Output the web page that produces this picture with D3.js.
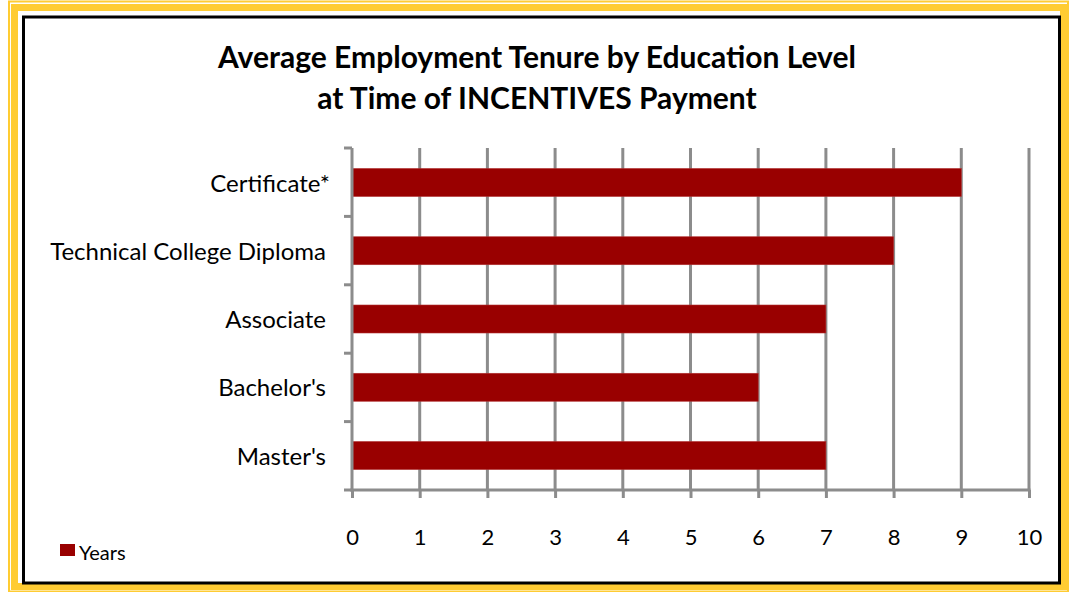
<!DOCTYPE html>
<html>
<head>
<meta charset="utf-8">
<script src="https://cdn.jsdelivr.net/npm/d3@7"></script>
<style>
  html, body { margin: 0; padding: 0; background: #fff; }
  svg { display: block; }
  text { font-family: Lato, "Open Sans", sans-serif; fill: #000; }
</style>
</head>
<body>
<svg id="chart" width="1069" height="592"></svg>
<script>
// Education levels, top to bottom
const categories = ["Certificate*", "Technical College Diploma", "Associate", "Bachelor's", "Master's"];
// Average tenure in years
const years = [9, 8, 7, 6, 7];
const xTicks = [0, 1, 2, 3, 4, 5, 6, 7, 8, 9, 10];
const titleLines = ["Average Employment Tenure by Education Level", "at Time of INCENTIVES Payment"];
const legendLabel = "Years";

const W = 1069, H = 592;
const barColor = "#990000";
const axisColor = "#8c8c8c";

const svg = d3.select("#chart");

// Decorative double yellow frame
svg.append("rect").attr("x", 9).attr("y", 1.5).attr("width", W - 10).attr("height", H - 2)
  .attr("fill", "none").attr("stroke", "#ffcc33").attr("stroke-width", 2);
svg.append("rect").attr("x", 14.5).attr("y", 7.5).attr("width", W - 20).attr("height", H - 13)
  .attr("fill", "none").attr("stroke", "#ffcc33").attr("stroke-width", 7);

// Black chart-area border
svg.append("rect").attr("x", 23.5).attr("y", 17).attr("width", 1036).attr("height", 566)
  .attr("fill", "#fff").attr("stroke", "#000").attr("stroke-width", 3);

// Plot area
const plotL = 352, plotR = 1029, plotT = 148, plotB = 490;

const x = d3.scaleLinear().domain([0, 10]).range([plotL, plotR]);
const y = d3.scaleBand().domain(categories).range([plotT, plotB]).paddingInner(0.59).paddingOuter(0.3);

// Vertical gridlines
svg.append("g").selectAll("line").data(xTicks.filter(d => d > 0)).join("line")
  .attr("x1", d => x(d)).attr("x2", d => x(d))
  .attr("y1", plotT).attr("y2", plotB)
  .attr("stroke", axisColor).attr("stroke-width", 3);

// Bars
svg.append("g").selectAll("rect").data(categories).join("rect")
  .attr("x", x(0))
  .attr("y", d => y(d))
  .attr("width", (d, i) => x(years[i]) - x(0))
  .attr("height", y.bandwidth())
  .attr("fill", barColor)
  .attr("stroke", "#b03030").attr("stroke-width", 0.6);

// Y axis line with ticks between categories
const yAxisG = svg.append("g");
yAxisG.append("line").attr("x1", plotL).attr("x2", plotL).attr("y1", plotT).attr("y2", plotB + 1.5)
  .attr("stroke", axisColor).attr("stroke-width", 3);
const step = (plotB - plotT) / categories.length;
yAxisG.selectAll("line.tk").data(d3.range(categories.length + 1)).join("line").attr("class", "tk")
  .attr("x1", plotL - 8).attr("x2", plotL)
  .attr("y1", i => plotT + i * step).attr("y2", i => plotT + i * step)
  .attr("stroke", axisColor).attr("stroke-width", 3);

// Category labels
svg.append("g").selectAll("text").data(categories).join("text")
  .attr("x", (d, i) => i === 0 ? 330 : 326)
  .attr("y", d => y(d) + y.bandwidth() / 2)
  .attr("dy", "0.38em")
  .attr("text-anchor", "end")
  .attr("font-size", 24)
  .text(d => d);

// X axis
const xAxis = d3.axisBottom(x).tickValues(xTicks).tickSize(8).tickPadding(31).tickFormat(d3.format("d"));
const xg = svg.append("g").attr("transform", `translate(0,${plotB})`).call(xAxis);
xg.select(".domain").attr("stroke", axisColor).attr("stroke-width", 3).attr("d", `M${plotL - 1.5},0H${plotR + 1.5}`);
xg.selectAll(".tick line").attr("stroke", axisColor).attr("stroke-width", 3);
xg.selectAll(".tick text").attr("font-size", 22).attr("font-family", "Lato, sans-serif").attr("fill", "#000");

// Title
svg.append("g").selectAll("text").data(titleLines).join("text")
  .attr("x", 537)
  .attr("y", (d, i) => 68 + i * 41)
  .attr("text-anchor", "middle")
  .attr("font-size", 30)
  .attr("font-weight", "bold")
  .text(d => d);

// Legend
svg.append("rect").attr("x", 60).attr("y", 544).attr("width", 15).attr("height", 12).attr("fill", barColor);
svg.append("text").attr("x", 79).attr("y", 560).attr("font-size", 20).text(legendLabel);
</script>
</body>
</html>
